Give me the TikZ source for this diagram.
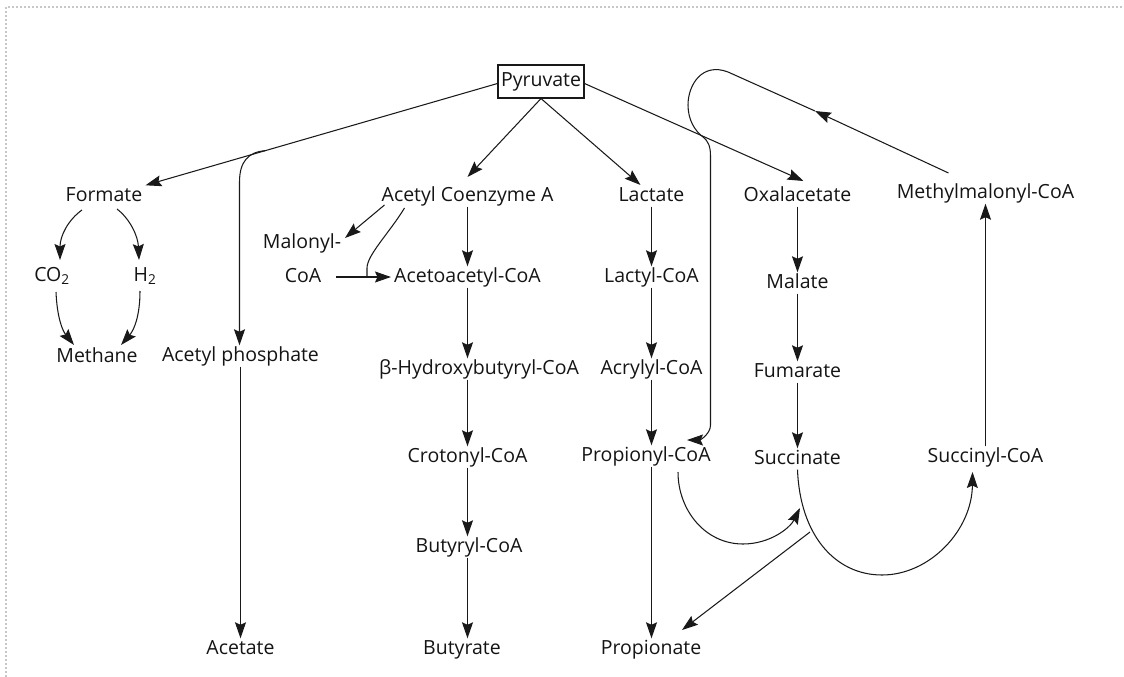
\documentclass[tikz,border=0pt]{standalone}
\usepackage{fontspec}
\setmainfont{Open Sans}
\usetikzlibrary{arrows.meta,calc}
\begin{document}
\begin{tikzpicture}[x=1pt,y=-1pt,
  lbl/.style={font=\fontsize{19.5}{23}\selectfont, text=black!92, inner xsep=3pt, inner ysep=1.5pt, text height=14pt, text depth=4pt},
  arr/.style={draw=black!90, line width=1.05pt, -{Stealth[length=16pt,width=11pt,inset=2.5pt]}},
  ln/.style={draw=black!90, line width=1.05pt},
  frame/.style={draw=black!22, line width=1.3pt, dash pattern=on 2pt off 2pt}]
\useasboundingbox (0,0) rectangle (1124,677);
\draw[frame] (6,677) -- (6,7) -- (1124,7);

% metabolites
\node[lbl, draw=black!90, line width=1.05pt, minimum width=86pt, minimum height=33pt, inner sep=0pt] (pyr) at (541,81.5) {Pyruvate};
\node[lbl] (formate) at (104,196) {Formate};
\node[lbl] (co2) at (52,276) {CO\textsubscript{2}};
\node[lbl] (h2) at (145,276) {H\textsubscript{2}};
\node[lbl] (methane) at (97,357) {Methane};
\node[lbl] (aphos) at (240.5,356) {Acetyl phosphate};
\node[lbl] (acetate) at (240.5,649) {Acetate};
\node[lbl] (acoa) at (467.5,196) {Acetyl Coenzyme A};
\node[lbl] (malonyl) at (302,243) {Malonyl-};
\node[lbl] (coa) at (303,277) {CoA};
\node[lbl] (aacoa) at (467.5,277) {Acetoacetyl-CoA};
\node[lbl] (hbcoa) at (479,369) {β-Hydroxybutyryl-CoA};
\node[lbl] (crcoa) at (467.5,457) {Crotonyl-CoA};
\node[lbl] (bucoa) at (469,547) {Butyryl-CoA};
\node[lbl] (butyrate) at (462,649) {Butyrate};
\node[lbl] (lactate) at (651.5,196) {Lactate};
\node[lbl] (lacoa) at (651.5,277) {Lactyl-CoA};
\node[lbl] (accoa) at (651.5,369) {Acrylyl-CoA};
\node[lbl] (prcoa) at (646,456) {Propionyl-CoA};
\node[lbl] (propionate) at (651,649) {Propionate};
\node[lbl] (oxa) at (797.5,196) {Oxalacetate};
\node[lbl] (malate) at (797.5,283) {Malate};
\node[lbl] (fumarate) at (797.5,372) {Fumarate};
\node[lbl] (succinate) at (797.5,459) {Succinate};
\node[lbl] (mmcoa) at (985.5,193) {Methylmalonyl-CoA};
\node[lbl] (sucoa) at (985.5,457) {Succinyl-CoA};

% branches leaving pyruvate
\coordinate (pyrleft) at ($(pyr.west)+(0,2)$);
\draw[arr] (pyrleft) -- (formate.north east);
\coordinate (apbranch) at ($(pyrleft)!0.66!(formate.north east)$);
\draw[arr] (apbranch) .. controls (248,152) and (239.5,162) .. (239.5,182) -- (239.5,0 |- aphos.north);
\draw[arr] (pyr.south) -- ($(acoa)+(0,-19)$);
\draw[arr] (pyr.south) -- ($(lactate)+(-11,-11)$);
\draw[arr] ($(pyr.east)+(0,2)$) -- ($(oxa)+(6,-15)$);

% formate split
\draw[arr] ($(formate)+(-22,14)$) .. controls (68,220) and (60,236) .. ($(co2)+(8,-16)$);
\draw[arr] ($(formate)+(13,13)$) .. controls (130,219) and (138,236) .. ($(h2)+(-6,-16)$);
\draw[arr] ($(co2)+(4,16)$) .. controls (57,316) and (62,330) .. ($(methane)+(-23,-12)$);
\draw[arr] ($(h2)+(-5,15)$) .. controls (140,316) and (134,330) .. ($(methane)+(24,-12)$);

% acetate
\draw[arr] (aphos.south) -- (aphos.south |- acetate.north);

% butyrate route
\draw[arr] ($(acoa)+(-83,9)$) -- ($(malonyl)+(43,-5)$);
\draw[arr] ($(coa.east)+(12,0)$) -- (aacoa.west);
\draw[ln] ($(acoa)+(-63,12)$) .. controls (390,232) and (367,255) .. (367,268) -- (367,0 |- aacoa.west);
\draw[arr] (acoa.south) -- (acoa.south |- aacoa.north);
\draw[arr] (aacoa.south) -- (aacoa.south |- hbcoa.north);
\draw[arr] (aacoa.south |- hbcoa.south) -- (aacoa.south |- crcoa.north);
\draw[arr] (crcoa.south) -- (crcoa.south |- bucoa.north);
\draw[arr] (crcoa.south |- bucoa.south) -- (crcoa.south |- butyrate.north);

% acrylate route
\draw[arr] (lactate.south) -- (lactate.south |- lacoa.north);
\draw[arr] (lacoa.south) -- (lacoa.south |- accoa.north);
\draw[arr] (accoa.south) -- (accoa.south |- prcoa.north);
\draw[arr] (accoa.south |- prcoa.south) -- (accoa.south |- propionate.north);

% succinate route
\draw[arr] (oxa.south) -- (oxa.south |- malate.north);
\draw[arr] (malate.south) -- (malate.south |- fumarate.north);
\draw[arr] (fumarate.south) -- (fumarate.south |- succinate.north);
\draw[arr] (succinate.south) .. controls (800,535) and (835,575) .. (882,575)
  .. controls (930,575) and (972,530) .. ($(sucoa)+(-13,15)$);
\draw[arr] (sucoa.north) -- (sucoa.north |- mmcoa.south);
\draw[arr] ($(prcoa)+(32,16)$) .. controls (678,510) and (705,544) .. (743,544)
  .. controls (770,544) and (790,528) .. (800,508);
\coordinate (split) at (810,532);
\draw[arr] (split) -- ($(propionate)+(31,-19)$);

% methylmalonyl-CoA loop back to propionyl-CoA
\coordinate (loopmid) at (815,111);
\draw[arr] ($(mmcoa)+(-37,-20)$) -- (loopmid);
\draw[arr] (loopmid) -- (728,72) .. controls (702,62) and (688,85) .. (688,105)
  .. controls (688,120) and (695,131) .. (703,137)
  .. controls (708,141) and (710.5,146) .. (710.5,156) -- (710.5,425)
  .. controls (710.5,434) and (700,440) .. ($(prcoa)+(41,-16)$);
\end{tikzpicture}
\end{document}
